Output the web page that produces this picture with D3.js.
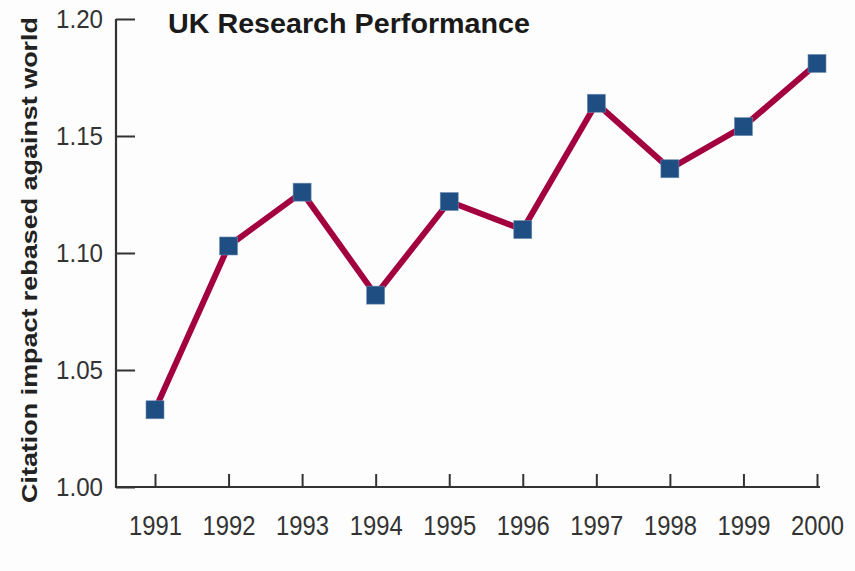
<!DOCTYPE html>
<html>
<head>
<meta charset="utf-8">
<script src="https://cdn.jsdelivr.net/npm/d3@7"></script>
<style>
  body { margin: 0; background: #fdfdfd; }
  svg { display: block; font-family: "Liberation Sans", Arial, sans-serif; }
</style>
</head>
<body>
<div id="chart"></div>
<script>
// data
var years = [1991, 1992, 1993, 1994, 1995, 1996, 1997, 1998, 1999, 2000];
var impact = [1.033, 1.103, 1.126, 1.082, 1.122, 1.110, 1.164, 1.136, 1.154, 1.181];
var yTicks = [1.00, 1.05, 1.10, 1.15, 1.20];

const width = 855;
const height = 571;
const plotLeft = 116, plotRight = 820, plotTop = 19, plotBottom = 487;

const svg = d3.select("#chart").append("svg")
  .attr("width", width)
  .attr("height", height);

// SCALES
const xScale = d3.scaleLinear().domain([1991, 2000]).range([155, 817]);
const yScale = d3.scaleLinear().domain([1.00, 1.20]).range([plotBottom, plotTop]);

// AXES
const xAxis = d3.axisBottom(xScale)
  .tickValues(years)
  .tickFormat(d3.format("d"))
  .tickSizeInner(-13)
  .tickSizeOuter(0)
  .tickPadding(29);

const gx = svg.append("g")
  .attr("transform", "translate(0," + plotBottom + ")")
  .call(xAxis);
gx.select(".domain").remove();
gx.selectAll("line").attr("stroke", "#333").attr("stroke-width", 2);
gx.selectAll("text")
  .attr("fill", "#333")
  .style("font-size", "27px")
  .attr("textLength", 53)
  .attr("lengthAdjust", "spacingAndGlyphs");

const yAxis = d3.axisLeft(yScale)
  .tickValues(yTicks)
  .tickFormat(d3.format(".2f"))
  .tickSizeInner(-19)
  .tickSizeOuter(0)
  .tickPadding(13);

const gy = svg.append("g")
  .attr("transform", "translate(" + plotLeft + ",0)")
  .call(yAxis);
gy.select(".domain").remove();
gy.selectAll("line").attr("stroke", "#333").attr("stroke-width", 2);
gy.selectAll("text")
  .attr("fill", "#333")
  .style("font-size", "26px")
  .attr("textLength", 47)
  .attr("lengthAdjust", "spacingAndGlyphs");

// axis lines
svg.append("path")
  .attr("d", "M" + plotLeft + "," + plotTop + "V" + plotBottom + "H" + plotRight)
  .attr("fill", "none")
  .attr("stroke", "#333")
  .attr("stroke-width", 2.2);

// axis title
svg.append("text")
  .attr("transform", "translate(37,260) rotate(-90)")
  .attr("text-anchor", "middle")
  .attr("fill", "#222")
  .style("font-size", "22px")
  .style("font-weight", "bold")
  .attr("textLength", 486)
  .attr("lengthAdjust", "spacingAndGlyphs")
  .text("Citation impact rebased against world");

// chart title
svg.append("text")
  .attr("x", 168)
  .attr("y", 33)
  .attr("fill", "#1a1a1a")
  .style("font-size", "28px")
  .style("font-weight", "bold")
  .attr("textLength", 362)
  .attr("lengthAdjust", "spacingAndGlyphs")
  .text("UK Research Performance");

// LINE
const line = d3.line()
  .x((d, i) => xScale(years[i]))
  .y(d => yScale(d));

svg.append("path")
  .datum(impact)
  .attr("d", line)
  .attr("fill", "none")
  .attr("stroke", "#a2003f")
  .attr("stroke-width", 6);

// MARKERS
const size = 18;
svg.selectAll("rect.marker")
  .data(impact)
  .enter()
  .append("rect")
  .attr("class", "marker")
  .attr("x", (d, i) => xScale(years[i]) - size / 2)
  .attr("y", d => yScale(d) - size / 2)
  .attr("width", size)
  .attr("height", size)
  .attr("fill", "#1f4e82")
  .attr("stroke", "#6f8fb3")
  .attr("stroke-width", 0.6);
</script>
</body>
</html>
